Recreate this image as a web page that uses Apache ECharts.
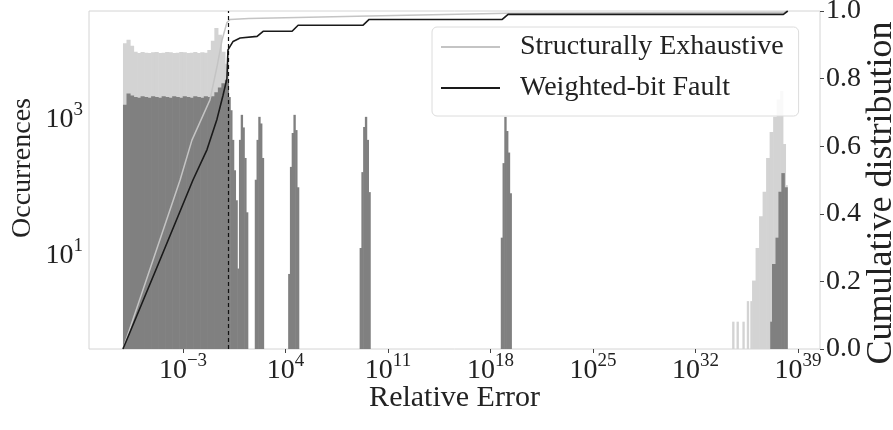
<!DOCTYPE html>
<html>
<head>
<meta charset="utf-8">
<script src="https://cdn.jsdelivr.net/npm/echarts@6/dist/echarts.min.js"></script>
<style>html,body{margin:0;padding:0;background:#fff}#c{width:893px;height:430px}</style>
</head>
<body>
<div id="c"></div>
<script>
// x values are log10(relative error); bins are [lo, hi, count]
const seriesNames = ['Structurally Exhaustive', 'Weighted-bit Fault'];
const xTickExponents = [-3, 4, 11, 18, 25, 32, 39];
const yTickValues = [10, 1000];
const thresholdExponent = 0.07;

const exhaustiveBins = [
  [-7.10,-6.86,12000],[-6.86,-6.62,13500],[-6.62,-6.38,11000],[-6.38,-6.14,9000],
  [-6.14,-5.90,8600],[-5.90,-5.66,8900],[-5.66,-5.42,8700],[-5.42,-5.18,8600],
  [-5.18,-4.94,8800],[-4.94,-4.70,8900],[-4.70,-4.46,8600],[-4.46,-4.22,8700],
  [-4.22,-3.98,8900],[-3.98,-3.74,8800],[-3.74,-3.50,8600],[-3.50,-3.26,8700],
  [-3.26,-3.02,8900],[-3.02,-2.78,8800],[-2.78,-2.54,8600],[-2.54,-2.30,8700],
  [-2.30,-2.06,8900],[-2.06,-1.82,8600],[-1.82,-1.58,8800],[-1.58,-1.34,8700],
  [-1.34,-1.10,9500],[-1.10,-0.86,13000],[-0.86,-0.62,20000],[-0.62,-0.38,16000],
  [-0.38,-0.14,9000],[-0.14,0.10,6000],
  [34.50,34.62,1],[34.80,34.92,1],[35.20,35.32,1],[35.50,35.62,2],[35.74,35.86,2],
  [35.86,36.10,4],[36.10,36.34,12],[36.34,36.58,35],[36.58,36.82,80],[36.82,37.06,250],
  [37.06,37.30,600],[37.30,37.54,1000],[37.54,37.78,1800],[37.78,37.96,2400],
  [37.96,38.14,400],[38.14,38.26,100]
];

const weightedBins = [
  [-7.10,-6.86,1500],[-6.86,-6.62,2200],[-6.62,-6.38,2050],[-6.38,-6.14,1950],
  [-6.14,-5.90,1900],[-5.90,-5.66,2000],[-5.66,-5.42,1950],[-5.42,-5.18,1900],
  [-5.18,-4.94,2000],[-4.94,-4.70,1950],[-4.70,-4.46,1900],[-4.46,-4.22,2000],
  [-4.22,-3.98,1950],[-3.98,-3.74,1900],[-3.74,-3.50,2000],[-3.50,-3.26,1950],
  [-3.26,-3.02,1900],[-3.02,-2.78,2000],[-2.78,-2.54,1950],[-2.54,-2.30,1900],
  [-2.30,-2.06,2000],[-2.06,-1.82,1950],[-1.82,-1.58,1900],[-1.58,-1.34,2000],
  [-1.34,-1.10,1950],[-1.10,-0.86,2000],[-0.86,-0.62,2300],[-0.62,-0.38,2700],
  [-0.38,-0.14,3100],[-0.14,0.10,3500],
  [0.10,0.22,1950],[0.22,0.34,1250],[0.34,0.46,460],[0.46,0.58,165],[0.58,0.70,60],[0.70,0.82,6],
  [0.82,0.94,460],[0.94,1.06,1070],[1.06,1.18,700],[1.18,1.30,250],[1.30,1.42,40],
  [1.90,2.02,120],[2.02,2.14,460],[2.14,2.26,1000],[2.26,2.38,800],[2.38,2.50,250],
  [4.18,4.30,5],[4.30,4.42,185],[4.42,4.54,580],[4.54,4.66,1070],[4.66,4.78,640],[4.78,4.90,93],
  [9.06,9.18,12],[9.18,9.30,155],[9.30,9.42,710],[9.42,9.54,1000],[9.54,9.66,460],[9.66,9.78,79],
  [18.70,18.82,17],[18.82,18.94,210],[18.94,19.06,1000],[19.06,19.18,620],[19.18,19.30,300],[19.30,19.42,76],
  [37.10,37.22,1],[37.22,37.46,7],[37.46,37.66,17],[37.66,37.86,80],[37.86,38.06,150],[38.06,38.26,93]
];

const exhaustiveCdf = [
  [-7.10,0],[-3.20,0.50],[-2.39,0.618],[-1.16,0.737],[-0.68,0.835],[-0.33,0.915],
  [0.00,0.966],[0.21,0.975],[1.50,0.978],[4.80,0.981],[9.70,0.985],[19.20,0.993],
  [38.00,0.996],[38.30,1.0]
];
const weightedCdf = [
  [-7.10,0],[-4.70,0.25],[-2.32,0.50],[-1.36,0.59],[-0.68,0.68],[-0.27,0.75],
  [0.00,0.80],[0.07,0.885],[0.42,0.91],[0.90,0.92],[2.06,0.925],[2.47,0.94],
  [4.45,0.94],[4.86,0.958],[9.30,0.958],[9.71,0.975],[18.80,0.975],[19.20,0.99],
  [38.00,0.99],[38.30,1.0]
];

const FONT = 'Liberation Serif';
const Y_MIN = 0.398, Y_MAX = 35500;
const supRich = {
  b: {fontFamily: FONT, fontSize: 28, color: '#222', verticalAlign: 'bottom'},
  s: {fontFamily: FONT, fontSize: 19, color: '#222', verticalAlign: 'bottom', padding: [0, 0, 14, 0]}
};
function expLabel(e) {
  const t = e < 0 ? '\u2212' + (-e) : String(e);
  return '{b|10}{s|' + t + '}';
}
function histSeries(name, bins, color, z) {
  return {
    name: name + ' hist', type: 'custom', xAxisIndex: 0, yAxisIndex: 0, z: z,
    data: bins, clip: true, silent: true,
    renderItem: function (params, api) {
      const p1 = api.coord([api.value(0), api.value(2)]);
      const p0 = api.coord([api.value(1), Y_MIN]);
      return {
        type: 'rect',
        shape: {x: p1[0], y: p1[1], width: p0[0] - p1[0] + 0.6, height: p0[1] - p1[1]},
        style: {fill: color}
      };
    }
  };
}

const chart = echarts.init(document.getElementById('c'), null, {renderer: 'canvas'});
chart.setOption({
  animation: false,
  backgroundColor: '#fff',
  grid: {left: 89, right: 73, top: 11, bottom: 81, outerBoundsMode: 'none', containLabel: false,
         show: true, borderColor: '#d4d4d4', borderWidth: 1, backgroundColor: 'transparent'},
  legend: {
    orient: 'vertical', left: 432, top: 27,
    data: seriesNames,
    itemWidth: 59, itemHeight: 2, itemGap: 11, icon: 'rect',
    padding: [5, 15, 13, 9],
    backgroundColor: 'rgba(255,255,255,0.85)', borderColor: '#dcdcdc', borderWidth: 1, borderRadius: 5,
    textStyle: {fontFamily: FONT, fontSize: 28, color: '#222', lineHeight: 30, padding: [0, 0, 0, 15]}
  },
  xAxis: {
    type: 'value', min: -9.42, max: 40.5,
    name: 'Relative Error', nameLocation: 'middle', nameGap: 34, nameMoveOverlap: false,
    nameTextStyle: {fontFamily: FONT, fontSize: 30, color: '#222', verticalAlign: 'top'},
    axisLine: {show: false},
    axisTick: {show: true, inside: false, length: 4, lineStyle: {color: '#444'}, customValues: xTickExponents},
    axisLabel: {customValues: xTickExponents, formatter: function (v) { return expLabel(v); }, rich: supRich, margin: 3},
    splitLine: {show: false}
  },
  yAxis: [{
    type: 'log', logBase: 10, min: Y_MIN, max: Y_MAX,
    name: 'Occurrences', nameLocation: 'middle', nameGap: 52, nameRotate: 90, nameMoveOverlap: false,
    nameTextStyle: {fontFamily: FONT, fontSize: 28, color: '#222', padding: [0, 0, 0, 24]},
    axisLine: {show: false},
    axisTick: {show: true, length: 4, lineStyle: {color: '#444'}, customValues: yTickValues},
    axisLabel: {customValues: yTickValues, formatter: function (v) { return expLabel(Math.round(Math.log10(v))); }, rich: supRich, margin: 6},
    splitLine: {show: false}
  }, {
    type: 'value', min: 0, max: 1, interval: 0.2, position: 'right',
    name: 'Cumulative distribution', nameLocation: 'middle', nameGap: 44, nameRotate: 90, nameMoveOverlap: false,
    nameTextStyle: {fontFamily: FONT, fontSize: 36, color: '#222', padding: [0, 26, 0, 0]},
    axisLine: {show: false},
    axisTick: {show: true, length: 4, lineStyle: {color: '#444'}},
    axisLabel: {formatter: function (v) { return v.toFixed(1); }, fontFamily: FONT, fontSize: 28, color: '#222', margin: 6},
    splitLine: {show: false}
  }],
  series: [
    histSeries(seriesNames[0], exhaustiveBins, '#d3d3d3', 1),
    histSeries(seriesNames[1], weightedBins, '#808080', 2),
    {
      name: seriesNames[0], type: 'line', yAxisIndex: 1, data: exhaustiveCdf, z: 3,
      showSymbol: false, color: '#c4c4c4', lineStyle: {color: '#c4c4c4', width: 1.5}
    },
    {
      name: seriesNames[1], type: 'line', yAxisIndex: 1, data: weightedCdf, z: 4,
      showSymbol: false, color: '#1a1a1a', lineStyle: {color: '#1a1a1a', width: 1.6},
      markLine: {
        silent: true, symbol: 'none', label: {show: false},
        lineStyle: {color: '#111', type: [4, 3], width: 1.2},
        data: [{xAxis: thresholdExponent}]
      }
    }
  ]
});
</script>
</body>
</html>
